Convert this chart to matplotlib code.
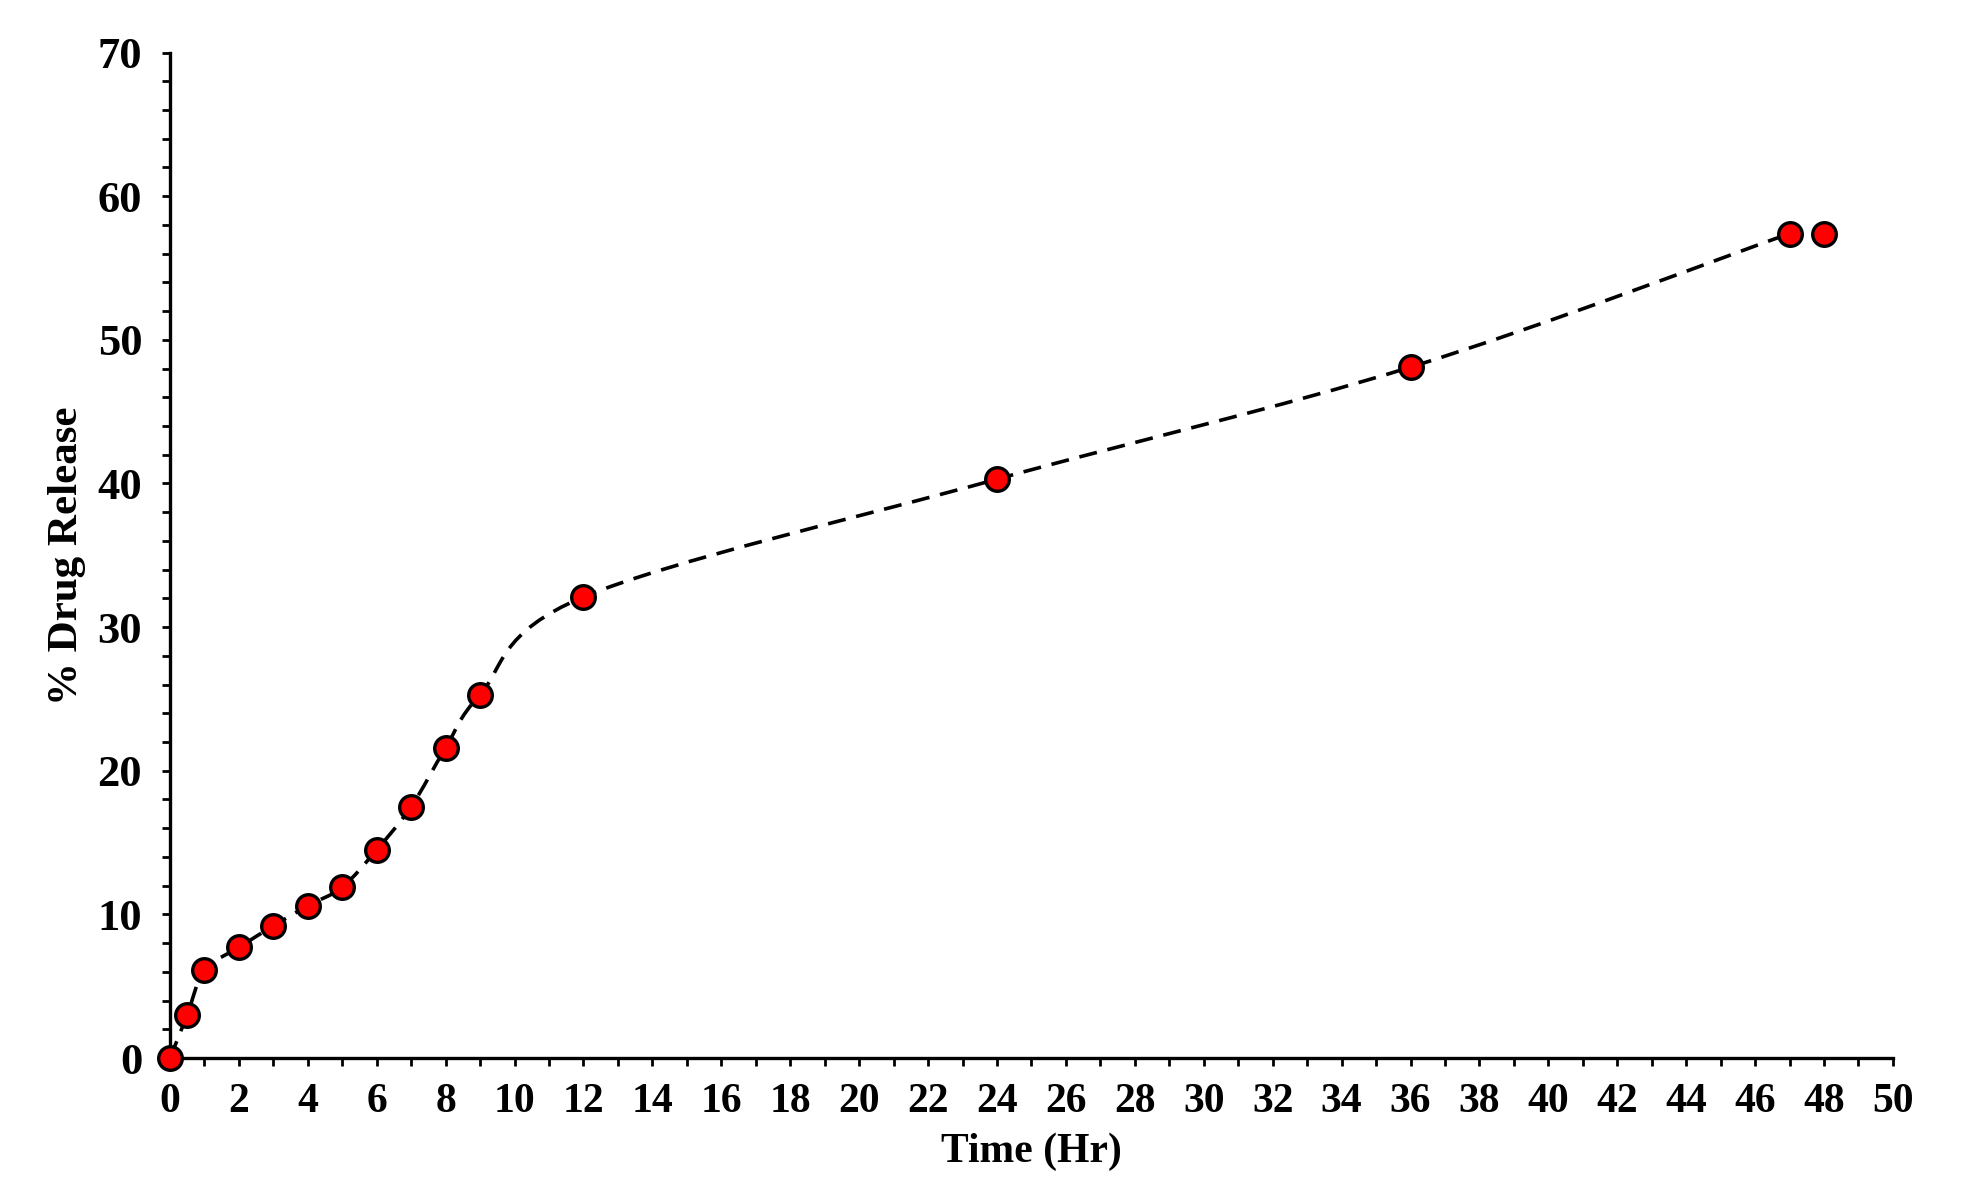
import matplotlib
matplotlib.use("Agg")
import matplotlib.pyplot as plt
import matplotlib.ticker as ticker
from matplotlib.path import Path
from matplotlib.patches import PathPatch
import numpy as np

# --- Data ---
time_hr = [0, 0.5, 1, 2, 3, 4, 5, 6, 7, 8, 9, 12, 24, 36, 47, 48]
release = [0.0, 3.0, 6.1, 7.7, 9.2, 10.6, 11.9, 14.5, 17.5, 21.6, 25.3,
           32.1, 40.3, 48.1, 57.4, 57.4]

# smoothed dashed curve runs through the points up to 47 h
n_curve = 15

plt.rcParams.update({"font.family": ["Liberation Serif", "DejaVu Serif"],
                     "font.weight": "bold"})

fig = plt.figure(figsize=(19.63, 11.92), dpi=100)
ax = fig.add_axes([0.0866, 0.1124, 0.8777, 0.8435])


def smooth_path(xs, ys):
    # Catmull-Rom style bezier, like a spreadsheet "smoothed line"
    p = np.column_stack([xs, ys]).astype(float)
    ext = np.vstack([p[0], p, p[-1]])
    verts = [p[0]]
    codes = [Path.MOVETO]
    for i in range(len(p) - 1):
        p0, p1, p2, p3 = ext[i], ext[i + 1], ext[i + 2], ext[i + 3]
        c1 = p1 + (p2 - p0) / 6.0
        c2 = p2 - (p3 - p1) / 6.0
        verts += [c1, c2, p2]
        codes += [Path.CURVE4] * 3
    return Path(verts, codes)


curve = smooth_path(time_hr[:n_curve], release[:n_curve])
ax.add_patch(PathPatch(curve, fill=False, edgecolor="black", linewidth=2.6,
                       linestyle=(0, (5.0, 3.0)), zorder=2))

ax.plot(time_hr, release, linestyle="none", marker="o", markersize=17,
        markerfacecolor="#ff0000", markeredgecolor="black",
        markeredgewidth=2.4, zorder=3, clip_on=False)

ax.set_xlim(0, 50)
ax.set_ylim(0, 70)
ax.xaxis.set_major_locator(ticker.MultipleLocator(2))
ax.xaxis.set_minor_locator(ticker.MultipleLocator(1))
ax.yaxis.set_major_locator(ticker.MultipleLocator(10))
ax.yaxis.set_minor_locator(ticker.MultipleLocator(2))

for side in ["top", "right"]:
    ax.spines[side].set_visible(False)
for side in ["left", "bottom"]:
    ax.spines[side].set_linewidth(2.4)

ax.tick_params(which="both", direction="out", length=6, width=2.0)
ax.tick_params(axis="x", which="major", labelsize=30, pad=12)
ax.tick_params(axis="y", which="major", labelsize=32, pad=14)
for lab in ax.get_xticklabels() + ax.get_yticklabels():
    lab.set_fontweight("bold")

ax.set_xlabel("Time (Hr)", fontsize=30, fontweight="bold", labelpad=8)
ax.set_ylabel("% Drug Release", fontsize=31, fontweight="bold", labelpad=8)

fig.savefig("out.png", dpi=100)
